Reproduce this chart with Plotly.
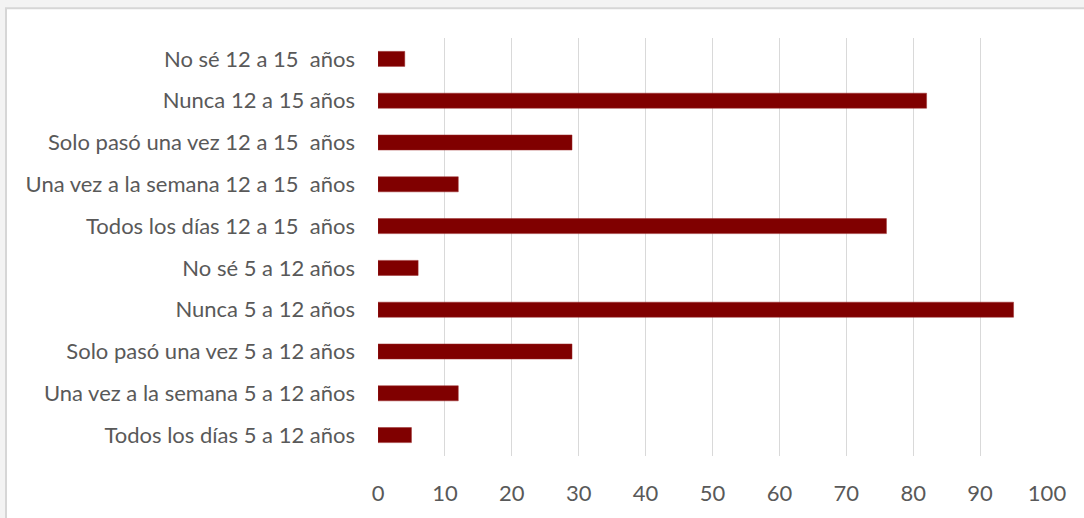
import plotly.graph_objects as go

categories = [
    "Todos los días 5 a 12 años",
    "Una vez a la semana 5 a 12 años",
    "Solo pasó una vez 5 a 12 años",
    "Nunca 5 a 12 años",
    "No sé 5 a 12 años",
    "Todos los días 12 a 15 \u00a0años",
    "Una vez a la semana 12 a 15 \u00a0años",
    "Solo pasó una vez 12 a 15 \u00a0años",
    "Nunca 12 a 15 años",
    "No sé 12 a 15 \u00a0años",
]
values = [5, 12, 29, 95, 6, 76, 12, 29, 82, 4]
x_ticks = [0, 10, 20, 30, 40, 50, 60, 70, 80, 90, 100]

W, H = 1084, 518
L, R, T, B = 378, 37, 38, 57
pw, ph = W - L - R, H - T - B

def px(x):
    return (x - L) / pw

def py(y):
    return (H - B - y) / ph

fig = go.Figure(go.Bar(
    y=categories, x=values, orientation="h",
    marker=dict(color="#800000", line=dict(color="#9a2a2a", width=0.5)),
    width=0.36,
))

fig.add_shape(type="rect", xref="paper", yref="paper",
              x0=px(6), x1=px(1200), y0=py(8), y1=py(700),
              fillcolor="white", line=dict(color="#d6d6d6", width=2), layer="below")

fig.update_layout(
    width=W, height=H,
    margin=dict(l=L, r=R, t=T, b=B),
    paper_bgcolor="#f3f3f3",
    plot_bgcolor="rgba(0,0,0,0)",
    showlegend=False,
    bargap=0.64,
    font=dict(family="Lato, Open Sans, sans-serif", size=22, color="#595959"),
    xaxis=dict(range=[0, 100], tickvals=x_ticks, showgrid=True, gridcolor="#d9d9d9",
               gridwidth=1, zeroline=False, showline=False, ticks="",
               ticklabelstandoff=22, tickfont=dict(size=22, color="#595959")),
    yaxis=dict(categoryorder="array", categoryarray=categories, showgrid=False,
               zeroline=False, showline=False, ticks="", ticklabelstandoff=22,
               tickfont=dict(size=22, color="#595959")),
)

fig.write_html("out.html", config={"displayModeBar": False},
               post_script="document.body.style.margin='0';")
